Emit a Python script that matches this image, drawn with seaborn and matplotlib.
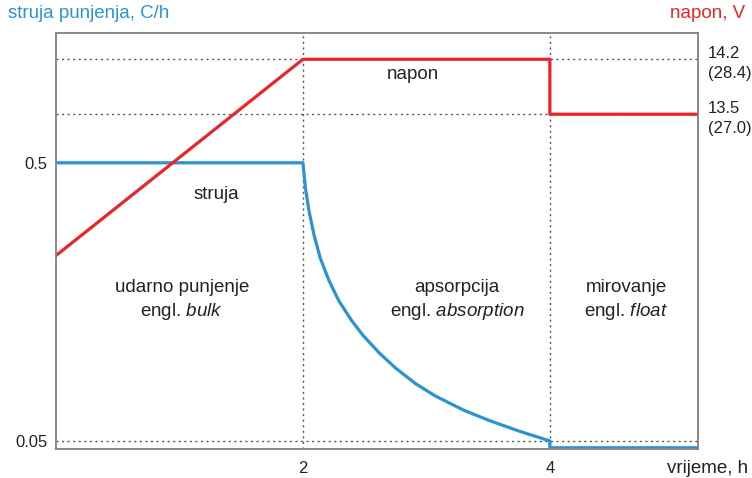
import numpy as np
import pandas as pd
import seaborn as sns
import matplotlib.pyplot as plt

# charging profile
t_voltage = [0, 2, 4, 4, 5.2]
voltage = [11.7, 14.2, 14.2, 13.5, 13.5]

t_current = [0, 2, 2.02, 2.05, 2.09, 2.14, 2.21, 2.29, 2.39, 2.49, 2.62, 2.75,
             2.91, 3.07, 3.30, 3.51, 3.75, 4.0, 4.0, 5.2]
current = [0.5, 0.5, 0.459, 0.421, 0.383, 0.346, 0.310, 0.277, 0.246, 0.220, 0.192, 0.168,
           0.143, 0.123, 0.100, 0.083, 0.066, 0.05, 0.039, 0.039]

current_ticks = [0.05, 0.5]
current_labels = ['0.05', '0.5']
voltage_ticks = [13.5, 14.2]
voltage_labels = ['13.5\n(27.0)', '14.2\n(28.4)']
time_ticks = [2, 4]

blue = '#2b93d4'
red = '#e8262a'
grid_col = '#555555'

sns.set_theme(style="white")
plt.rcParams['font.family'] = ['Liberation Sans', 'DejaVu Sans']
plt.rcParams['mathtext.fontset'] = 'custom'
plt.rcParams['mathtext.rm'] = 'Liberation Sans'
plt.rcParams['mathtext.it'] = 'Liberation Sans:italic'

df_v = pd.DataFrame({'t': t_voltage, 'v': voltage})
df_c = pd.DataFrame({'t': t_current, 'i': current})

fig = plt.figure(figsize=(7.52, 4.78), dpi=100)
ax = fig.add_axes([0.0745, 0.0607, 0.8537, 0.8703])
ax2 = ax.twinx()

sns.lineplot(data=df_c, x='t', y='i', ax=ax, color=blue, lw=2.3,
             estimator=None, sort=False)
sns.lineplot(data=df_v, x='t', y='v', ax=ax2, color=red, lw=2.3,
             estimator=None, sort=False)

ax.set_xlim(0, 5.2)
ax.set_ylim(0.037, 0.71)
ax2.set_ylim(9.236, 14.535)

# dotted guide lines
dots = dict(color=grid_col, lw=1, linestyle=(0, (1.5, 2.5)), zorder=1)
for x in time_ticks:
    ax.axvline(x, **dots)
ax.axhline(0.05, **dots)
for v in voltage_ticks:
    ax2.axhline(v, **dots)

ax.set_xticks(time_ticks)
ax.set_xticklabels([str(x) for x in time_ticks])
ax.set_yticks(current_ticks)
ax.set_yticklabels(current_labels)
ax2.set_yticks(voltage_ticks)
ax2.set_yticklabels(voltage_labels)
ax.set_xlabel('')
ax.set_ylabel('')
ax2.set_ylabel('')

ax.tick_params(axis='x', length=6, width=1, color=grid_col, pad=3,
               labelsize=12, labelcolor='#222222')
ax.tick_params(axis='y', length=0, pad=6, labelsize=12, labelcolor='#222222')
ax2.tick_params(axis='y', length=0, pad=7, labelsize=12, labelcolor='#222222')
for lab in ax2.get_yticklabels():
    lab.set_linespacing(1.45)

for a in (ax, ax2):
    for s in a.spines.values():
        s.set_color('#8c8484')
        s.set_linewidth(1.1)

# annotations
fs = 13.5
ax2.text(2.89, 14.0, 'napon', ha='center', va='center', fontsize=fs, color='#222222')
ax.text(1.30, 0.448, 'struja', ha='center', va='center', fontsize=fs, color='#222222')
ax.text(1.02, 0.277, 'udarno punjenje\nengl. $\\it{bulk}$', ha='center', va='center',
        fontsize=fs, color='#222222', linespacing=1.3)
ax.text(3.25, 0.277, 'apsorpcija\nengl. $\\it{absorption}$', ha='center', va='center',
        fontsize=fs, color='#222222', linespacing=1.3)
ax.text(4.62, 0.277, 'mirovanje\nengl. $\\it{float}$', ha='center', va='center',
        fontsize=fs, color='#222222', linespacing=1.3)

fig.text(8 / 752, 1 - 14 / 478, 'struja punjenja, C/h', ha='left', va='center',
         fontsize=fs, color=blue)
fig.text(745 / 752, 1 - 14 / 478, 'napon, V', ha='right', va='center',
         fontsize=fs, color=red)
fig.text(748 / 752, 1 / 478, 'vrijeme, h', ha='right', va='bottom',
         fontsize=fs, color='#222222')

fig.savefig('out.png', dpi=100)
